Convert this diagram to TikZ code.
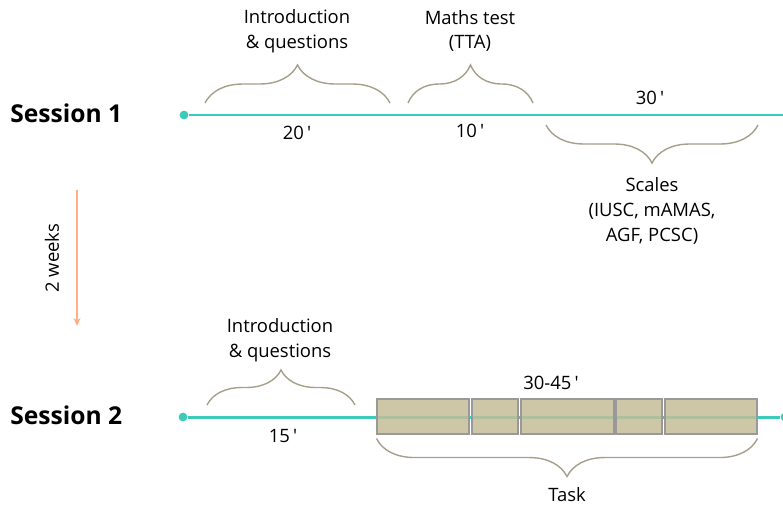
\documentclass[tikz,border=0pt]{standalone}
\usepackage{fontspec}
\setmainfont{Open Sans}
\usetikzlibrary{arrows.meta,decorations.pathreplacing}
\definecolor{lineteal}{HTML}{3CCBB9}
\definecolor{bracegrey}{HTML}{A59F8C}
\definecolor{taskfill}{HTML}{C4BD99}
\definecolor{weekorange}{HTML}{FF9A6A}

\begin{document}
\begin{tikzpicture}[x=0.02cm,y=-0.02cm,
 lbl/.style={align=center,font=\fontsize{10.5}{14}\selectfont,inner sep=1pt},
 session/.style={anchor=west,font=\fontsize{14}{16}\selectfont\bfseries,inner sep=0pt},
 curly/.style={draw=bracegrey,line width=.8pt,decorate,decoration={brace,amplitude=#1}},
 timeline/.style={draw=lineteal,line width=1.7pt},
 dot/.style={circle,fill=lineteal,inner sep=0pt,minimum size=5pt},
 taskbox/.style={draw=black!40,line width=.6pt,fill=taskfill,fill opacity=.85,minimum height=.7cm,inner sep=0pt},
 >={Stealth[length=1.6mm,width=1.4mm]}]
\useasboundingbox (0,0) rectangle (783,507);
% session 1
\node[session] (s1) at (10,113) {Session 1};
\node[dot] (start1) at (184,115) {};
\coordinate (end1) at (790,115);
\draw[timeline] (start1) -- (end1);
\coordinate (b1l) at (205,103); \coordinate (b1r) at (390,103);
\coordinate (b2l) at (408,103); \coordinate (b2r) at (533,103);
\coordinate (b3l) at (546,125); \coordinate (b3r) at (758,125);
\draw[curly=.76cm] (b1l) -- (b1r);
\draw[curly=.76cm] (b2l) -- (b2r);
\draw[curly=.76cm] (b3r) -- (b3l);
\node[lbl] (intro1) at (297,31) {Introduction\\\& questions};
\node[lbl] (maths) at (470,31) {Maths test\\(TTA)};
\node[lbl] (t20) at (297,133) {20\,′};
\node[lbl] (t10) at (470,131) {10\,′};
\node[lbl] (t30) at (650,98) {30\,′};
\node[lbl] (scales) at (652,211) {Scales\\(IUSC, mAMAS,\\AGF, PCSC)};
% gap between sessions
\coordinate (wtop) at (77,190); \coordinate (wbot) at (77,326);
\draw[weekorange!80,line width=.7pt,-{Stealth[length=1.6mm,width=1.4mm,fill=weekorange]}] (wtop) -- (wbot);
\node[lbl,rotate=90] (weeks) at (52,258) {2 weeks};
% session 2
\node[session] (s2) at (10,415) {Session 2};
\node[dot] (start2) at (183,417) {};
\node[dot] (end2) at (785,417) {};
\draw[timeline] (start2) -- (end2);
\node[taskbox,minimum width=1.84cm] (k1) at (423,416.5) {};
\node[taskbox,minimum width=.92cm] (k2) at (495,416.5) {};
\node[taskbox,minimum width=1.86cm] (k3) at (567.5,416.5) {};
\node[taskbox,minimum width=.92cm] (k4) at (639,416.5) {};
\node[taskbox,minimum width=1.84cm] (k5) at (711,416.5) {};
\coordinate (b4l) at (207,405); \coordinate (b4r) at (355,405);
\draw[curly=.7cm] (b4l) -- (b4r);
\path (k5.south east) ++(0,4) coordinate (b5r);
\path (k1.south west) ++(0,4) coordinate (b5l);
\draw[curly=.76cm] (b5r) -- (b5l);
\node[lbl] (intro2) at (280,340) {Introduction\\\& questions};
\node[lbl] (t15) at (283,436) {15\,′};
\node[lbl] (t3045) at (551,383) {30-45\,′};
\node[lbl] (task) at (567,495) {Task};
\end{tikzpicture}
\end{document}
